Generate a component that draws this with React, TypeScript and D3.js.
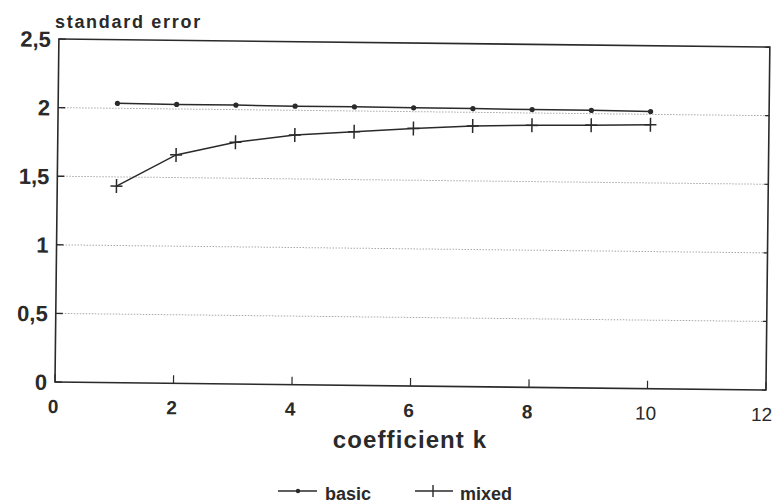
import React from "react";
import * as d3 from "d3";

const kValues = [1, 2, 3, 4, 5, 6, 7, 8, 9, 10];
const basicValues = [2.036, 2.033, 2.033, 2.03, 2.03, 2.028, 2.027, 2.025, 2.024, 2.02];
const mixedValues = [1.433, 1.665, 1.762, 1.82, 1.849, 1.878, 1.9, 1.91, 1.916, 1.924];
const yTicks = [0, 0.5, 1, 1.5, 2, 2.5];
const yTickLabels = ["0", "0,5", "1", "1,5", "2", "2,5"];
const xTicks = [0, 2, 4, 6, 8, 10, 12];
const gridValues = [0.5, 1, 1.5, 2];

const W = 774;
const H = 504;
const L = 55, R = 766, T = 39, B = 382;
const ink = "#2a2a2a";
const font = "'Liberation Sans', Arial, sans-serif";

export default function App() {
  const x = d3.scaleLinear().domain([0, 12]).range([L, R]);
  const y = d3.scaleLinear().domain([0, 2.5]).range([B, T]);
  const line = d3
    .line<number>()
    .x((_, i) => x(kValues[i]))
    .y((d) => y(d));

  return (
    <svg
      width={W}
      height={H}
      style={{ position: "absolute", left: 0, top: 0, background: "#fff" }}
    >
      <rect width={W} height={H} fill="#fff" />
      <text
        x={L}
        y={28}
        fontFamily={font}
        fill={ink}
        fontSize={18}
        fontWeight="bold"
        style={{ letterSpacing: "1.7px" }}
      >
        standard error
      </text>
      <g transform={`rotate(0.65 ${L} ${B})`} fontFamily={font} fill={ink}>
        {gridValues.map((v) => (
          <line
            key={v}
            x1={L}
            x2={R}
            y1={y(v)}
            y2={y(v)}
            stroke="#a8a8a8"
            strokeWidth={1}
            strokeDasharray="1.5 1.5"
          />
        ))}
        <rect
          x={L}
          y={T}
          width={R - L}
          height={B - T}
          fill="none"
          stroke={ink}
          strokeWidth={1.6}
        />
        {yTicks.map((v, i) => (
          <g key={v}>
            <line x1={L} x2={L + 7} y1={y(v)} y2={y(v)} stroke={ink} strokeWidth={1.4} />
            <line x1={R} x2={R - 4} y1={y(v)} y2={y(v)} stroke={ink} strokeWidth={1.2} />
            <text
              x={47}
              y={y(v)}
              dy="0.36em"
              textAnchor="end"
              fontSize={22}
              fontWeight="bold"
            >
              {yTickLabels[i]}
            </text>
          </g>
        ))}
        {xTicks.map((v) => (
          <g key={v}>
            <line x1={x(v)} x2={x(v)} y1={B} y2={B - 8} stroke={ink} strokeWidth={1.2} />
            <text
              x={Math.min(x(v) - 1.5, 762)}
              y={B + 31}
              textAnchor="middle"
              fontSize={19}
              fontWeight={v >= 10 ? "normal" : "bold"}
            >
              {v}
            </text>
          </g>
        ))}

        <path d={line(basicValues) || ""} fill="none" stroke={ink} strokeWidth={1.5} />
        {basicValues.map((v, i) => (
          <circle key={i} cx={x(kValues[i])} cy={y(v)} r={2.6} fill={ink} />
        ))}
        <path d={line(mixedValues) || ""} fill="none" stroke={ink} strokeWidth={1.5} />
        {mixedValues.map((v, i) => (
          <g key={i} stroke={ink} strokeWidth={1.5}>
            <line x1={x(kValues[i]) - 6} x2={x(kValues[i]) + 6} y1={y(v)} y2={y(v)} />
            <line x1={x(kValues[i])} x2={x(kValues[i])} y1={y(v) - 7} y2={y(v) + 7} />
          </g>
        ))}
      </g>

      <g fontFamily={font} fill={ink}>
        <text
          x={410}
          y={448}
          textAnchor="middle"
          fontSize={24}
          fontWeight="bold"
          style={{ letterSpacing: "1.1px" }}
        >
          coefficient k
        </text>
        <line x1={278} x2={317} y1={491} y2={491} stroke={ink} strokeWidth={1.4} />
        <circle cx={298} cy={491} r={2.2} fill={ink} />
        <text x={325} y={500} fontSize={18} fontWeight="bold">basic</text>
        <line x1={415} x2={453} y1={491} y2={491} stroke={ink} strokeWidth={1.4} />
        <line x1={433} x2={433} y1={485} y2={497} stroke={ink} strokeWidth={1.4} />
        <text x={460} y={500} fontSize={18} fontWeight="bold">mixed</text>
      </g>
    </svg>
  );
}
